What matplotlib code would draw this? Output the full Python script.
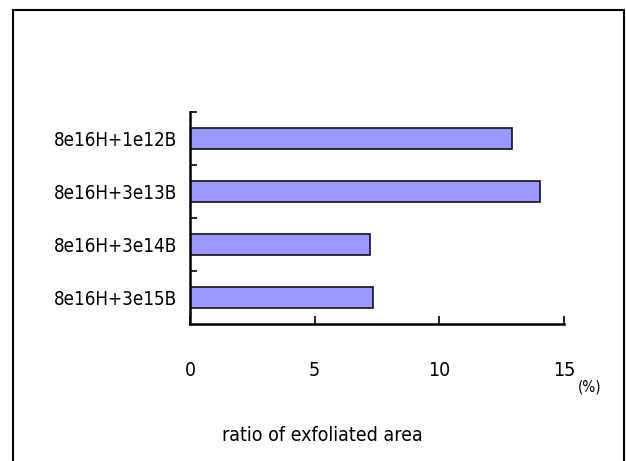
import matplotlib
matplotlib.use("Agg")
import matplotlib.pyplot as plt
from matplotlib.patches import Rectangle

# ratio of exfoliated area (%) per implant condition
conditions = ["8e16H+1e12B", "8e16H+3e13B", "8e16H+3e14B", "8e16H+3e15B"]
ratio = [12.9, 14.05, 7.2, 7.35]
xticks = [0, 5, 10, 15]

plt.rcParams["font.family"] = ["DejaVu Sans"]
plt.rcParams["font.stretch"] = "condensed"

fig = plt.figure(figsize=(6.26, 4.61), dpi=100)
ax = fig.add_axes([0.3035, 0.2972, 0.5975, 0.4598])

# outer frame (open at the bottom, cropped)
fig.patches.append(Rectangle((13 / 626, -0.01), (624 - 13) / 626, 1 - 10 / 461 + 0.01,
                             transform=fig.transFigure, fill=False,
                             edgecolor="black", linewidth=1.5))

y = list(range(len(conditions)))[::-1]
ax.barh(y, ratio, height=0.39, color="#9999ff", edgecolor="#111111", linewidth=1.2)

ax.set_xlim(0, 15)
ax.set_ylim(-0.5, len(conditions) - 0.5)
ax.set_xticks(xticks)
ax.set_xticklabels([str(t) for t in xticks], fontsize=14)
ax.set_yticks([v + 0.5 for v in range(len(conditions))])
ax.set_yticklabels([])
ax.set_yticks(y, minor=True)
ax.set_yticklabels(conditions, minor=True, fontsize=13.5)
ax.tick_params(axis="y", which="minor", length=0, pad=9)
ax.tick_params(axis="y", which="major", direction="in", length=5, width=1.2)
ax.tick_params(axis="x", direction="in", length=6, width=1.2, pad=27)
ax.spines["top"].set_visible(False)
ax.spines["right"].set_visible(False)
ax.spines["left"].set_linewidth(1.8)
ax.spines["bottom"].set_linewidth(1.8)
ax.set_xlabel("ratio of exfoliated area", fontsize=14)
ax.xaxis.set_label_coords(0.353, -0.48)
fig.text(590 / 626, 1 - 387 / 461, "(%)", fontsize=11, ha="center", va="center")

fig.savefig("out.png", dpi=100)
